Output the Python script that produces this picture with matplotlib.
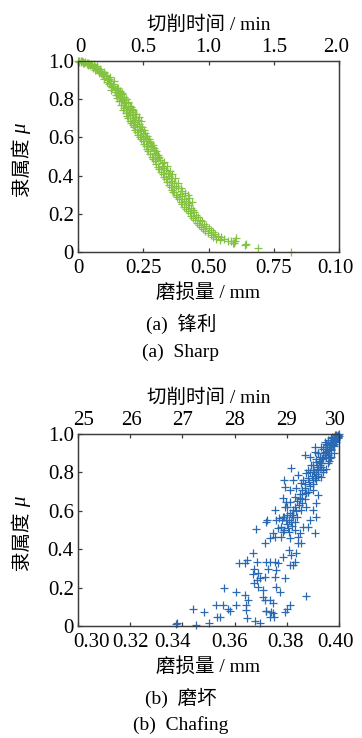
#! /usr/bin/env python3

import matplotlib
matplotlib.use("Agg")
import matplotlib.pyplot as plt
from matplotlib.transforms import ScaledTranslation

plt.rcParams['font.family'] = ['Liberation Serif', 'Noto Sans CJK SC']

# (a) sharp: wear (axis drawn 0..1, labelled up to "0.10") vs membership
sharp_wear = [
    0.000, 0.005, 0.010, 0.016, 0.021, 0.027, 0.033, 0.038, 0.044, 0.050,
    0.055, 0.060, 0.064, 0.069, 0.073, 0.078, 0.083, 0.087, 0.092, 0.097,
    0.060, 0.072, 0.085, 0.090, 0.101, 0.106, 0.110, 0.098, 0.115, 0.120,
    0.112, 0.118, 0.124, 0.127, 0.131, 0.135, 0.128, 0.140, 0.143, 0.148,
    0.152, 0.146, 0.157, 0.160, 0.150, 0.165, 0.168, 0.158, 0.172, 0.175,
    0.180, 0.166, 0.184, 0.176, 0.190, 0.172, 0.188, 0.195, 0.182, 0.200,
    0.186, 0.205, 0.193, 0.210, 0.198, 0.215, 0.203, 0.220, 0.209, 0.226,
    0.214, 0.232, 0.220, 0.238, 0.225, 0.243, 0.230, 0.250, 0.236, 0.255,
    0.242, 0.262, 0.248, 0.268, 0.253, 0.274, 0.259, 0.280, 0.264, 0.285,
    0.270, 0.290, 0.276, 0.296, 0.282, 0.302, 0.288, 0.308, 0.294, 0.314,
    0.300, 0.320, 0.306, 0.326, 0.312, 0.331, 0.318, 0.338, 0.324, 0.343,
    0.330, 0.350, 0.336, 0.356, 0.342, 0.362, 0.350, 0.368, 0.356, 0.375,
    0.362, 0.382, 0.368, 0.365, 0.398, 0.375, 0.392, 0.381, 0.400, 0.388,
    0.406, 0.394, 0.412, 0.400, 0.420, 0.406, 0.426, 0.413, 0.432, 0.420,
    0.440, 0.428, 0.446, 0.434, 0.452, 0.442, 0.458, 0.450, 0.466, 0.456,
    0.474, 0.464, 0.482, 0.472, 0.490, 0.480, 0.500, 0.488, 0.508, 0.498,
    0.516, 0.508, 0.526, 0.518, 0.535, 0.530, 0.548, 0.545, 0.560, 0.575,
    0.585, 0.592, 0.600, 0.606, 0.598, 0.640, 0.645, 0.690, 0.815, 0.420,
    0.090, 0.100, 0.108, 0.122, 0.134, 0.139, 0.155, 0.162, 0.170, 0.178,
    0.185, 0.192, 0.200, 0.207, 0.212, 0.218, 0.224, 0.230, 0.235, 0.246,
    0.252, 0.258, 0.266, 0.271, 0.276, 0.286, 0.292, 0.298, 0.305, 0.312,
    0.150, 0.160, 0.170, 0.182, 0.190, 0.203, 0.212, 0.222, 0.232, 0.240,
    0.330, 0.340, 0.352, 0.360, 0.372, 0.384, 0.396, 0.410, 0.424, 0.438,
    0.003, 0.012, 0.024, 0.035, 0.046, 0.058, 0.066, 0.080, 0.020, 0.040,
]
sharp_mu = [
    1.000, 1.000, 0.999, 0.998, 0.996, 0.995, 0.992, 0.990, 0.986, 0.982,
    0.979, 0.973, 0.968, 0.962, 0.957, 0.951, 0.945, 0.938, 0.931, 0.925,
    0.985, 0.975, 0.960, 0.950, 0.935, 0.920, 0.912, 0.905, 0.898, 0.905,
    0.890, 0.880, 0.885, 0.870, 0.862, 0.871, 0.850, 0.852, 0.840, 0.846,
    0.830, 0.820, 0.822, 0.812, 0.805, 0.808, 0.798, 0.790, 0.795, 0.785,
    0.778, 0.770, 0.765, 0.755, 0.757, 0.742, 0.742, 0.735, 0.728, 0.722,
    0.712, 0.715, 0.702, 0.700, 0.688, 0.690, 0.676, 0.680, 0.665, 0.670,
    0.652, 0.658, 0.640, 0.645, 0.628, 0.634, 0.615, 0.620, 0.604, 0.608,
    0.592, 0.596, 0.580, 0.582, 0.566, 0.570, 0.554, 0.560, 0.540, 0.548,
    0.528, 0.535, 0.514, 0.520, 0.500, 0.508, 0.488, 0.494, 0.474, 0.480,
    0.460, 0.468, 0.447, 0.452, 0.434, 0.440, 0.420, 0.428, 0.406, 0.414,
    0.394, 0.400, 0.380, 0.388, 0.366, 0.372, 0.352, 0.360, 0.338, 0.346,
    0.326, 0.334, 0.312, 0.312, 0.318, 0.300, 0.306, 0.288, 0.292, 0.275,
    0.280, 0.262, 0.266, 0.250, 0.254, 0.238, 0.244, 0.226, 0.232, 0.214,
    0.220, 0.202, 0.208, 0.190, 0.196, 0.178, 0.184, 0.166, 0.170, 0.154,
    0.160, 0.142, 0.148, 0.130, 0.136, 0.120, 0.124, 0.108, 0.114, 0.098,
    0.104, 0.088, 0.094, 0.080, 0.084, 0.070, 0.076, 0.062, 0.068, 0.056,
    0.060, 0.048, 0.056, 0.072, 0.045, 0.036, 0.040, 0.020, 0.000, 0.300,
    0.945, 0.940, 0.925, 0.915, 0.880, 0.895, 0.860, 0.845, 0.830, 0.812,
    0.800, 0.782, 0.765, 0.750, 0.735, 0.720, 0.705, 0.690, 0.672, 0.655,
    0.640, 0.625, 0.605, 0.590, 0.575, 0.560, 0.545, 0.528, 0.510, 0.495,
    0.860, 0.840, 0.825, 0.800, 0.785, 0.760, 0.745, 0.725, 0.705, 0.688,
    0.470, 0.450, 0.425, 0.410, 0.385, 0.360, 0.335, 0.310, 0.285, 0.260,
    0.995, 0.994, 0.990, 0.985, 0.978, 0.965, 0.955, 0.935, 0.992, 0.980,
]

# (b) chafing: wear in mm vs membership
chafing_wear = [
    0.3374, 0.3380, 0.3454, 0.3441, 0.3482, 0.3500, 0.3528, 0.3554, 0.3531, 0.3543,
    0.3559, 0.3575, 0.3582, 0.3605, 0.3607, 0.3645, 0.3645, 0.3648, 0.3617, 0.3639,
    0.3648, 0.3671, 0.3673, 0.3684, 0.3681, 0.3671, 0.3639, 0.3652, 0.3677, 0.3696,
    0.3690, 0.3709, 0.3673, 0.3716, 0.3722, 0.3690, 0.3696, 0.3684, 0.3728, 0.3735,
    0.3754, 0.3760, 0.3767, 0.3760, 0.3773, 0.3747, 0.3737, 0.3717, 0.3709, 0.3719,
    0.3737, 0.3747, 0.3722, 0.3741, 0.3750, 0.3754, 0.3792, 0.3801, 0.3792, 0.3811,
    0.3875, 0.3811, 0.3824, 0.3830, 0.3786, 0.3809, 0.3818, 0.3834, 0.3843, 0.3856,
    0.3843, 0.3811, 0.3786, 0.3779, 0.3768, 0.3747, 0.3735, 0.3754, 0.3722, 0.3724,
    0.3716, 0.3779, 0.3798, 0.3786, 0.3754, 0.3792, 0.3811, 0.3830, 0.3849, 0.3862,
    0.3881, 0.3907, 0.3888, 0.3913, 0.3901, 0.3875, 0.3856, 0.3824, 0.3798, 0.3786,
    0.3811, 0.3830, 0.3849, 0.3875, 0.3901, 0.3920, 0.3913, 0.3856, 0.3837, 0.3811,
    0.3792, 0.3788, 0.3818, 0.3824, 0.3843, 0.3862, 0.3875, 0.3901, 0.3881, 0.3913,
    0.3932, 0.3894, 0.3869, 0.3888, 0.3913, 0.3926, 0.3939, 0.3958, 0.3920, 0.3907,
    0.3932, 0.3945, 0.3958, 0.3964, 0.3971, 0.3977, 0.3945, 0.3958, 0.3983, 0.3990,
    0.3971, 0.3996, 0.4000, 0.3992, 0.3952, 0.3926, 0.3907, 0.3920, 0.3940, 0.3950,
    0.3930, 0.3960, 0.3970, 0.3980, 0.3960, 0.3980, 0.3990, 0.4000, 0.3990, 0.3980,
    0.3970, 0.3950, 0.3940, 0.3920, 0.3910, 0.3900, 0.3890, 0.3880, 0.3870, 0.3860,
    0.3850, 0.3840, 0.3830, 0.3820, 0.3810, 0.3800, 0.3790, 0.3840, 0.3860, 0.3880,
    0.3900, 0.3910, 0.3930, 0.3950, 0.3960, 0.3970, 0.3980, 0.3990, 0.3995, 0.3830,
    0.3810, 0.3800, 0.3820, 0.3780, 0.3770, 0.3760, 0.3790, 0.3800, 0.3985, 0.3975,
    0.3935, 0.3945, 0.3955, 0.3965, 0.3975, 0.3985, 0.3995, 0.3925, 0.3915, 0.3905,
    0.3895, 0.3885, 0.3870, 0.3860, 0.3850, 0.3845, 0.3835, 0.3825, 0.3815, 0.3805,
    0.3950, 0.3960, 0.3940, 0.3930, 0.3920, 0.3910, 0.3900, 0.3890, 0.3880, 0.3870,
    0.3985, 0.3990, 0.3975, 0.3965, 0.3955, 0.3948, 0.3938, 0.3928, 0.3918, 0.3908,
]
chafing_mu = [
    0.010, 0.014, 0.003, 0.090, 0.073, 0.014, 0.109, 0.109, 0.049, 0.049,
    0.196, 0.087, 0.080, 0.109, 0.179, 0.109, 0.083, 0.040, 0.326, 0.326,
    0.344, 0.378, 0.295, 0.335, 0.503, 0.271, 0.161, 0.135, 0.028, 0.014,
    0.205, 0.188, 0.222, 0.257, 0.335, 0.274, 0.248, 0.240, 0.295, 0.335,
    0.335, 0.292, 0.326, 0.205, 0.179, 0.118, 0.135, 0.135, 0.153, 0.080,
    0.049, 0.066, 0.080, 0.075, 0.045, 0.257, 0.248, 0.089, 0.071, 0.109,
    0.158, 0.318, 0.318, 0.335, 0.361, 0.396, 0.370, 0.382, 0.431, 0.431,
    0.465, 0.457, 0.491, 0.465, 0.509, 0.483, 0.457, 0.465, 0.543, 0.552,
    0.431, 0.517, 0.552, 0.569, 0.604, 0.622, 0.587, 0.500, 0.483, 0.517,
    0.517, 0.483, 0.552, 0.569, 0.604, 0.622, 0.604, 0.604, 0.648, 0.665,
    0.648, 0.674, 0.665, 0.691, 0.708, 0.682, 0.639, 0.743, 0.717, 0.708,
    0.726, 0.760, 0.821, 0.760, 0.786, 0.760, 0.795, 0.813, 0.813, 0.760,
    0.778, 0.839, 0.891, 0.882, 0.856, 0.830, 0.813, 0.847, 0.899, 0.908,
    0.934, 0.908, 0.891, 0.873, 0.917, 0.943, 0.960, 0.969, 0.969, 0.986,
    0.977, 0.995, 1.000, 0.990, 0.934, 0.882, 0.934, 0.780, 0.800, 0.820,
    0.850, 0.860, 0.880, 0.900, 0.930, 0.950, 0.970, 0.990, 0.995, 0.985,
    0.960, 0.950, 0.920, 0.900, 0.870, 0.840, 0.800, 0.770, 0.740, 0.710,
    0.690, 0.650, 0.620, 0.580, 0.550, 0.530, 0.500, 0.570, 0.640, 0.700,
    0.740, 0.790, 0.830, 0.880, 0.900, 0.920, 0.940, 0.960, 0.980, 0.540,
    0.490, 0.580, 0.520, 0.550, 0.560, 0.550, 0.570, 0.620, 0.975, 0.955,
    0.870, 0.890, 0.910, 0.930, 0.950, 0.965, 0.985, 0.860, 0.830, 0.800,
    0.780, 0.750, 0.720, 0.690, 0.660, 0.630, 0.600, 0.570, 0.540, 0.510,
    0.930, 0.920, 0.880, 0.850, 0.820, 0.790, 0.760, 0.730, 0.700, 0.660,
    0.995, 0.975, 0.985, 0.955, 0.945, 0.900, 0.875, 0.840, 0.815, 0.770,
]

sharp_bottom_ticks = [0, 0.25, 0.5, 0.75, 1.0]
sharp_bottom_labels = ['0', '0.25', '0.50', '0.75', '0.10']
sharp_top_ticks = [0, 0.5, 1.0, 1.5, 2.0]
sharp_top_labels = ['0', '0.5', '1.0', '1.5', '2.0']
chafing_bottom_ticks = [0.30, 0.32, 0.34, 0.36, 0.38, 0.40]
chafing_bottom_labels = ['0.30', '0.32', '0.34', '0.36', '0.38', '0.40']
chafing_top_ticks = [25, 26, 27, 28, 29, 30]
chafing_top_labels = ['25', '26', '27', '28', '29', '30']
mu_ticks = [0, 0.2, 0.4, 0.6, 0.8, 1.0]
mu_labels = ['0', '0.2', '0.4', '0.6', '0.8', '1.0']

W, H = 362, 738
fig = plt.figure(figsize=(W / 100, H / 100), dpi=100)

spine_c = '#3c3c3c'
tick_fs = 15
label_fs = 14


def style(ax):
    for s in ax.spines.values():
        s.set_color(spine_c)
        s.set_linewidth(0.9)
    ax.tick_params(direction='in', length=3, width=0.9, color=spine_c,
                   labelsize=tick_fs, pad=3)


def nudge(labels, shifts):
    # small horizontal shifts (px) of single tick labels, as in the original layout
    for lab, dx in zip(labels, shifts):
        if dx:
            lab.set_transform(lab.get_transform() + ScaledTranslation(dx / 100, 0, fig.dpi_scale_trans))


def panel(top_px, bottom_px, x, y, color, xlim, xt, xtl, top_lim, tt, ttl,
          bshift, tshift):
    ax = fig.add_axes([78 / W, 1 - bottom_px / H, 261 / W, (bottom_px - top_px) / H])
    ax.scatter(x, y, marker='+', s=38, linewidths=0.9, color=color, clip_on=False, zorder=3)
    ax.set_xlim(*xlim)
    ax.set_ylim(0, 1.0)
    ax.set_xticks(xt)
    xl = ax.set_xticklabels(xtl)
    ax.set_yticks(mu_ticks)
    ax.set_yticklabels(mu_labels)
    ax.set_xlabel('磨损量 / mm', fontsize=label_fs, labelpad=4)
    style(ax)
    ax.tick_params(axis='x', pad=5)
    nudge(xl, bshift)

    # y label: CJK text plus italic mu
    ax.text(-0.215, 0.445, '隶属度', rotation=90, ha='center', va='center',
            fontsize=label_fs, transform=ax.transAxes)
    ax.text(-0.215, 0.645, 'μ', rotation=90, ha='center', va='center',
            fontsize=label_fs + 1, style='italic', transform=ax.transAxes)

    top = ax.twiny()
    top.set_xlim(*top_lim)
    top.set_xticks(tt)
    tl = top.set_xticklabels(ttl)
    top.set_xlabel('切削时间 / min', fontsize=label_fs, labelpad=6)
    style(top)
    nudge(tl, tshift)
    return ax


panel(61, 252, sharp_wear, sharp_mu, '#84c341', (0, 1.0),
      sharp_bottom_ticks, sharp_bottom_labels, (0, 2.0), sharp_top_ticks, sharp_top_labels,
      [0, 0, 0, 0, -4], [2, 0, 0, 0, -3])
fig.text(0.5, 1 - 324 / H, '(a)  锋利', ha='center', va='center', fontsize=label_fs)
fig.text(0.5, 1 - 352 / H, '(a)  Sharp', ha='center', va='center', fontsize=label_fs)

panel(434, 626, chafing_wear, chafing_mu, '#2a6ab4', (0.30, 0.40),
      chafing_bottom_ticks, chafing_bottom_labels, (25, 30), chafing_top_ticks,
      chafing_top_labels, [13, 0, -10, -5, -1, -4], [6, 1, 0, 0, 0, -4])
fig.text(0.5, 1 - 698 / H, '(b)  磨坏', ha='center', va='center', fontsize=label_fs)
fig.text(0.5, 1 - 725 / H, '(b)  Chafing', ha='center', va='center', fontsize=label_fs)

plt.savefig("out.png", dpi=100)
